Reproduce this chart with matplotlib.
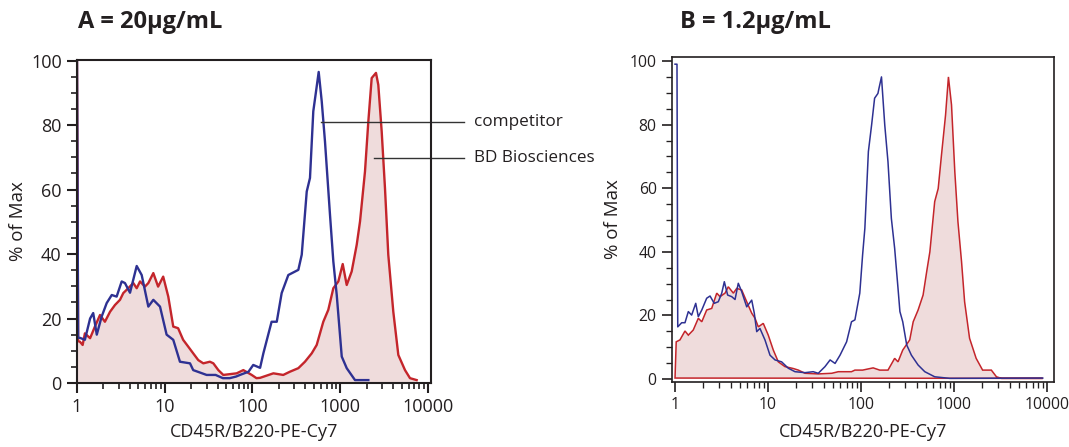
import numpy as np
import matplotlib.pyplot as plt
from matplotlib.ticker import FixedLocator, MultipleLocator, LogLocator, NullFormatter

plt.rcParams['font.family'] = ['Open Sans', 'DejaVu Sans']

TXT = '#231f20'
BLUE = '#2e3192'
RED = '#c4252b'
FILL = '#efdcdc'

# panel A (20 ug/mL)
a_comp_x = [1.0, 1.03, 1.08, 1.23, 1.41, 1.53, 1.68, 1.91, 2.18, 2.49, 2.83, 3.23, 3.52, 4.02,
            4.79, 5.46, 6.50, 7.41, 8.83, 10.5, 12.5, 14.9, 19.4, 21.1, 30, 38, 46, 55, 65, 72,
            90, 102, 122, 133, 165, 189, 215, 256, 333, 364, 415, 452, 493, 530, 568, 615, 670,
            764, 834, 912, 1040, 1185, 1473, 2090]
a_comp_y = [100, 14, 14, 13.4, 20, 21.7, 15, 20.6, 24.8, 27.3, 26.8, 31.5, 31, 28,
            36.3, 33.5, 23.7, 25.8, 23.7, 15, 13.4, 6.6, 6.1, 4, 2.5, 2.5, 1.5, 1.5, 2, 2.5,
            3.5, 5.6, 4.7, 9.2, 19, 19, 27.9, 33.5, 35.1, 39.8, 59.4, 63.6, 84.3, 90.5, 96.5, 87.4, 74.9,
            52.2, 37.7, 27.3, 8.2, 4.6, 0.9, 0.9]

a_bd_x = [1.0, 1.03, 1.08, 1.16, 1.23, 1.41, 1.60, 1.83, 2.08, 2.38, 2.71, 3.09, 3.37, 3.84,
          4.38, 4.79, 5.23, 5.95, 6.50, 7.41, 8.4, 9.6, 10.97, 12.5, 14.2, 16.2, 18.5, 21.1,
          24.1, 27.5, 32.7, 35.8, 40.8, 46.5, 66, 78.6, 98, 111, 122, 173, 224, 267, 333, 396,
          473, 539, 641, 731, 834, 951, 1067, 1185, 1350, 1541, 1680, 1914, 2089, 2282, 2554,
          2714, 2967, 3235, 3527, 4024, 4590, 5470, 6235, 7430]
a_bd_y = [100, 13, 12.8, 11.8, 15.4, 13.9, 17.5, 21.1, 19, 22.1, 24.2, 25.8, 27.9, 29.4,
          31, 29.4, 31.5, 29.9, 31, 34.1, 29.9, 33, 26.8, 17.5, 17, 13.4, 11.3, 9.2,
          7.1, 6.1, 6.6, 6.1, 4, 2.5, 3, 4, 2.5, 1.5, 1.6, 3, 2.5, 3.5, 4.6, 6.6,
          9.2, 11.8, 19, 22.7, 29.4, 31.5, 36.9, 30.4, 34.6, 42.9, 50.1, 65.6, 81.1, 94.6, 96.2,
          92.5, 78, 60.4, 39.8, 22.1, 8.7, 4, 1.5, 0.9]

# panel B (1.2 ug/mL)
b_comp_x = [1.0, 1.05, 1.07, 1.18, 1.28, 1.39, 1.51, 1.67, 1.78, 1.94, 2.19, 2.38, 2.64, 2.92,
            3.18, 3.39, 3.68, 4.07, 4.42, 4.79, 5.21, 5.90, 6.68, 7.12, 7.56, 8.19, 9.27, 10.5,
            11.9, 14.0, 16.5, 19.5, 25.0, 30.6, 34.7, 41, 46.5, 52.6, 59.5, 70, 79, 86, 97, 104,
            110, 120, 130, 140, 152, 156, 166, 180, 195, 212, 230, 250, 262, 281, 310, 348, 411,
            485, 620, 903, 9000]
b_comp_y = [99, 99, 16.4, 17.7, 17.7, 21.2, 20.1, 23.8, 19.6, 21.7, 25.4, 26.1, 23.8, 24.3,
            27, 30.6, 26.4, 25.9, 25, 30.1, 27.5, 22.7, 24.8, 20.7, 14.9, 15.9, 12.3, 7.5,
            6, 5.4, 3.4, 2.3, 2, 2.3, 1.8, 3.9, 6, 4.9, 7.5, 11.7, 18, 18.6, 27, 39,
            47.4, 71.5, 79.9, 88.3, 89.8, 91.4, 95, 79.9, 68.3, 50.5, 41.1, 28.5, 21.2, 18, 10.7, 7.5, 4.4,
            2.3, 0.7, 0.2, 0.3]

b_bd_x = [1.0, 1.03, 1.13, 1.28, 1.39, 1.57, 1.78, 1.94, 2.19, 2.48, 2.81, 3.05, 3.45, 3.74,
          4.24, 4.61, 5.21, 5.90, 6.68, 7.25, 7.86, 8.89, 10.06, 11.4, 12.9, 15.2, 18.7, 21.2,
          25.0, 34.7, 48.4, 57, 79, 86, 104, 135, 159, 195, 230, 250, 281, 334, 364, 411, 465,
          508, 550, 620, 676, 733, 811, 871, 940, 1020, 1102, 1205, 1300, 1470, 1730, 2030,
          2520, 2860, 3240, 9000]
b_bd_y = [0.3, 11.7, 12.3, 15.1, 13.8, 15.4, 19.1, 18, 21.7, 22.2, 27, 25.9, 27, 29,
          27, 28.5, 28, 24.3, 20.7, 19.1, 16.4, 17.5, 13.8, 9.1, 5.4, 3.9, 3.3, 2.8,
          1.8, 1.6, 1.8, 2.3, 2.3, 2.8, 2.8, 3.5, 2.8, 2.8, 6.5, 5.4, 9.1, 12.3, 18, 21.7, 26.4,
          33.7, 40, 55.8, 59.9, 70.4, 83, 95, 86.2, 65.2, 49.5, 36.9, 24.3, 12.8, 6.5, 2.8,
          2.8, 0.7, 0.2, 0.2]

decades = [1, 10, 100, 1000, 10000]
pct_ticks = [0, 20, 40, 60, 80, 100]

fig = plt.figure(figsize=(10.69, 4.47), dpi=100)
axA = fig.add_axes([77 / 1069, 64 / 447, 354 / 1069, 323 / 447])
axB = fig.add_axes([672 / 1069, 65 / 447, 382 / 1069, 325 / 447])


def style(ax, lw, fs, xmin, xmax, ymin, ymax):
    ax.set_xscale('log')
    ax.set_xlim(xmin, xmax)
    ax.set_ylim(ymin, ymax)
    ax.xaxis.set_major_locator(FixedLocator(decades))
    ax.set_xticklabels([str(d) for d in decades])
    ax.xaxis.set_minor_locator(LogLocator(base=10, subs=np.arange(2, 10)))
    ax.xaxis.set_minor_formatter(NullFormatter())
    ax.yaxis.set_major_locator(FixedLocator(pct_ticks))
    ax.yaxis.set_minor_locator(MultipleLocator(5))
    ax.tick_params(which='major', direction='out', length=7, width=lw, colors=TXT,
                   labelsize=fs, pad=4)
    ax.tick_params(which='minor', direction='out', length=4, width=lw * 0.8, colors=TXT)
    for s in ax.spines.values():
        s.set_linewidth(lw)
        s.set_color(TXT)
    ax.set_ylabel('% of Max', fontsize=13.5, color=TXT, ha='center', va='center')
    ax.set_xlabel('CD45R/B220-PE-Cy7', fontsize=13, color=TXT, ha='center', va='center')


# A
axA.fill_between(a_bd_x, a_bd_y, 0, color=FILL, lw=0)
axA.plot(a_bd_x, a_bd_y, color=RED, lw=1.7)
axA.plot(a_comp_x, a_comp_y, color=BLUE, lw=1.7)
style(axA, 1.5, 13, 1, 10820, 0, 100.2)
axA.yaxis.set_label_coords(-0.167, 0.5)
axA.xaxis.set_label_coords(0.5, -0.152)

# leader lines and labels
axA.plot([598, 25700], [81.1, 81.1], color='#333333', lw=1, clip_on=False)
axA.plot([2425, 25700], [69.9, 69.9], color='#333333', lw=1, clip_on=False)
fig.text(474 / 1069, 1 - 122 / 447, 'competitor', fontsize=12.3, color=TXT, va='center')
fig.text(474 / 1069, 1 - 158 / 447, 'BD Biosciences', fontsize=12.3, color=TXT, va='center')

# B
axB.fill(b_bd_x, b_bd_y, facecolor=FILL, edgecolor=RED, lw=1.1)
axB.plot(b_comp_x, b_comp_y, color=BLUE, lw=1.1)
style(axB, 1.2, 11.3, 0.928, 11890, -0.94, 101.26)
axB.yaxis.set_label_coords(-0.154, 0.5)
axB.xaxis.set_label_coords(0.5, -0.154)

fig.text(78 / 1069, 1 - 28 / 447, 'A = 20μg/mL', fontsize=17, fontweight='bold', color=TXT)
fig.text(680 / 1069, 1 - 28 / 447, 'B = 1.2μg/mL', fontsize=17, fontweight='bold', color=TXT)

fig.savefig('out.png', dpi=100)
